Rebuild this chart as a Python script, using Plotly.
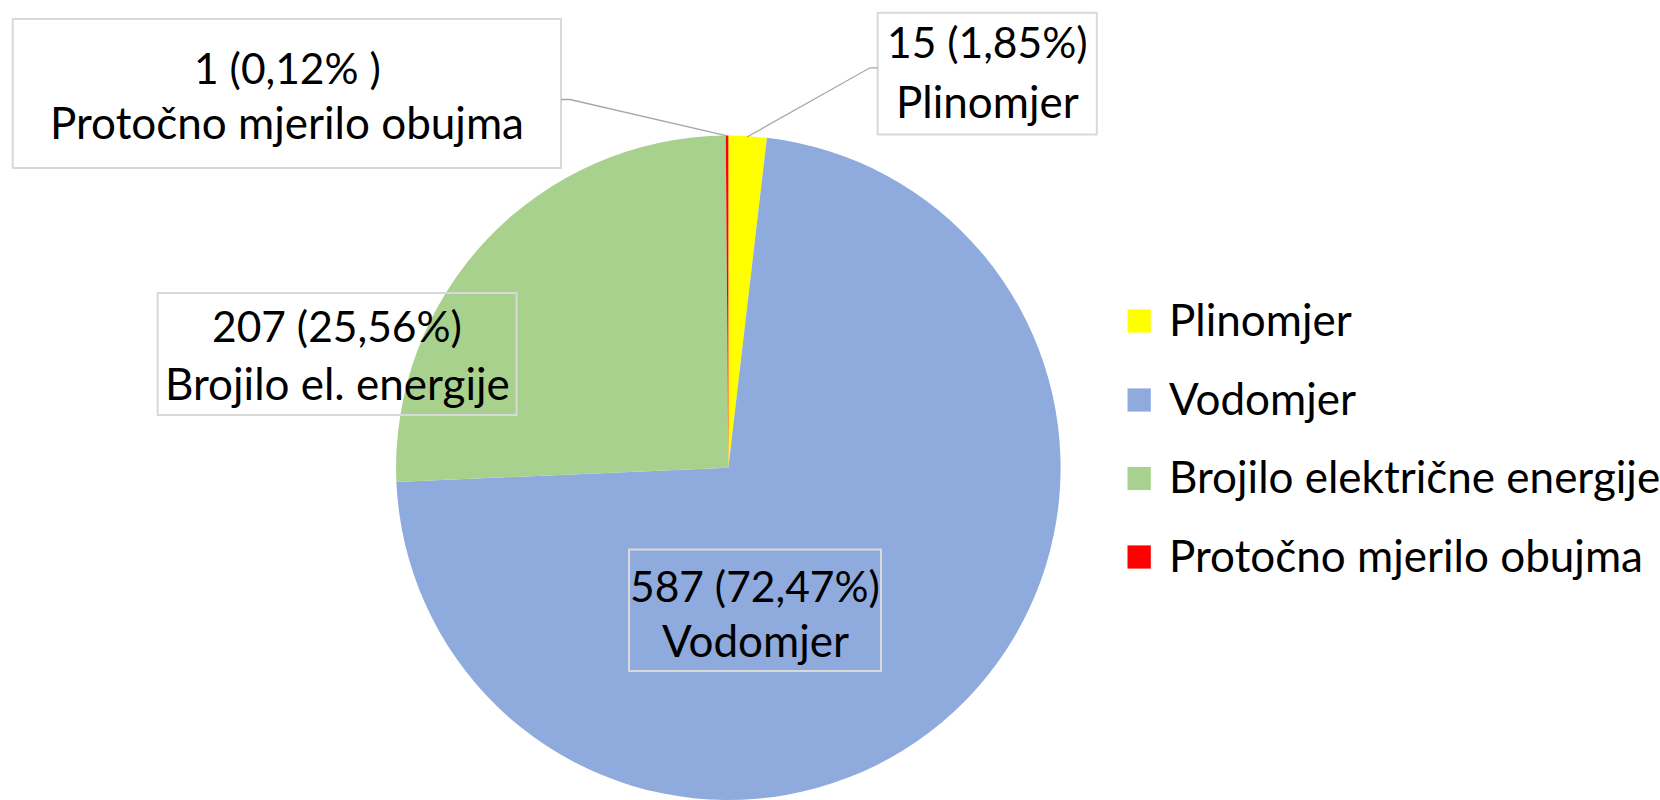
import plotly.graph_objects as go

# ---- data ----
labels = ["Plinomjer", "Vodomjer", "Brojilo električne energije", "Protočno mjerilo obujma"]
short_labels = ["Plinomjer", "Vodomjer", "Brojilo el. energije", "Protočno mjerilo obujma"]
values = [15, 587, 207, 1]
pct_text = ["1,85%", "72,47%", "25,56%", "0,12% "]
colors = ["#FFFF00", "#8FAADC", "#A9D18E", "#FF0000"]

W, H = 1660, 800
FONT = "Lato"
FS = 44
FS_NUM = 42.5


def px(x):
    return x / W


def py(y):
    return 1 - y / H


fig = go.Figure()
fig.add_trace(go.Pie(
    labels=labels, values=values, sort=False, direction="clockwise", rotation=0,
    marker=dict(colors=colors, line=dict(width=0)),
    textinfo="none", hoverinfo="label+value+percent", showlegend=False,
    domain=dict(x=[px(396.1), px(1060.6)], y=[0, py(135.5)]),
))

shapes = []
annotations = []

# label boxes: (index, box x0, y0, x1, y1, center x, line1 y, line2 y)
boxes = [
    (3, 12.7, 19, 561, 168, 287, 68, 122),
    (0, 877.7, 12.7, 1096.8, 134.5, 987, 41, 101),
    (2, 157.7, 293, 516.6, 415, 337, 325, 383),
    (1, 629, 549.5, 881, 671, 755, 585, 639.5),
]
for i, x0, y0, x1, y1, cx, l1, l2 in boxes:
    shapes.append(dict(type="rect", xref="paper", yref="paper",
                       x0=px(x0), x1=px(x1), y0=py(y1), y1=py(y0),
                       line=dict(color="#D9D9D9", width=2), fillcolor="rgba(0,0,0,0)"))
    annotations.append(dict(xref="paper", yref="paper", x=px(cx), y=py(l1),
                            text=f"{values[i]} ({pct_text[i]})", showarrow=False,
                            xanchor="center", yanchor="middle",
                            font=dict(family=FONT, size=FS_NUM, color="#000000")))
    annotations.append(dict(xref="paper", yref="paper", x=px(cx), y=py(l2),
                            text=short_labels[i], showarrow=False,
                            xanchor="center", yanchor="middle",
                            font=dict(family=FONT, size=FS, color="#000000")))

# leader lines
leaders = [
    [(561, 99.5), (570, 99.5), (727.2, 135.8)],
    [(877.7, 67.8), (870, 67.8), (747, 137)],
]
for pts in leaders:
    path = "M " + " L ".join(f"{px(x)},{py(y)}" for x, y in pts)
    shapes.append(dict(type="path", xref="paper", yref="paper", path=path,
                       line=dict(color="#A6A6A6", width=1.3)))

# custom legend
leg_y = [321, 400, 478.5, 557]
for i, lab in enumerate(labels):
    yc = leg_y[i]
    shapes.append(dict(type="rect", xref="paper", yref="paper",
                       x0=px(1127.5), x1=px(1150.8), y0=py(yc + 11.6), y1=py(yc - 11.6),
                       line=dict(width=0), fillcolor=colors[i]))
    annotations.append(dict(xref="paper", yref="paper", x=px(1167), y=py(yc - 2),
                            text=lab, showarrow=False, xanchor="left", yanchor="middle",
                            font=dict(family=FONT, size=FS, color="#000000")))

fig.update_layout(
    width=W, height=H,
    margin=dict(l=0, r=0, t=0, b=0),
    paper_bgcolor="#FFFFFF", plot_bgcolor="#FFFFFF",
    shapes=shapes, annotations=annotations,
    showlegend=False,
)

fig.write_html(
    "out.html",
    config={"displayModeBar": False},
    post_script="document.body.style.margin='0px';document.body.style.overflow='hidden';",
)
